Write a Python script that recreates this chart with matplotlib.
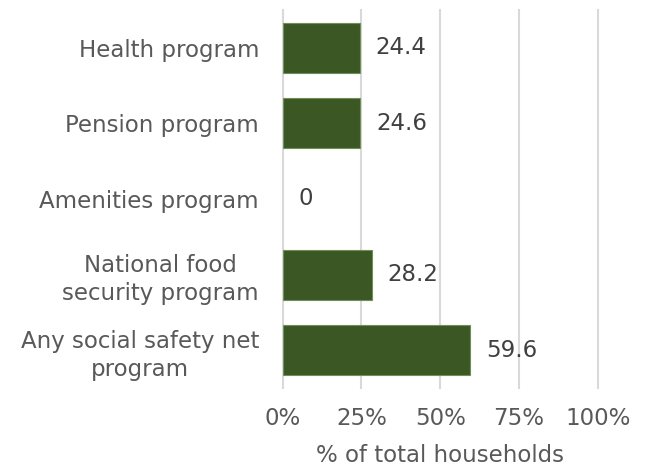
import matplotlib
matplotlib.use("Agg")
import matplotlib.pyplot as plt
from matplotlib.ticker import FuncFormatter

programs = ["Health program", "Pension program", "Amenities program",
            "National food\nsecurity program", "Any social safety net\nprogram"]
shares = [24.4, 24.6, 0, 28.2, 59.6]
xticks = [0, 25, 50, 75, 100]

plt.rcParams['font.family'] = ['DejaVu Sans']
plt.rcParams['font.size'] = 16.5

fig = plt.figure(figsize=(6.46, 4.66), dpi=100)
ax = fig.add_axes([0.4376, 0.1674, 0.4876, 0.8112])

ypos = list(range(len(programs)))
# no outline on empty bars
edges = [0.8 if v > 0 else 0 for v in shares]
bars = ax.barh(ypos, shares, height=0.66, color='#3b5723',
               edgecolor='#6f8f5a', linewidth=edges, zorder=3)
ax.bar_label(bars, labels=[f"{v:g}" for v in shares], padding=11.5,
             color='#404040', fontsize=16.5)

ax.set_ylim(len(programs) - 0.5, -0.5)
ax.set_xlim(0, 100)
ax.set_yticks(ypos)
ax.set_yticklabels(programs, color='#595959', multialignment='center',
                   linespacing=1.3)
ax.set_xticks(xticks)
ax.xaxis.set_major_formatter(FuncFormatter(lambda v, p: f"{v:.0f}%"))
ax.tick_params(axis='x', length=0, pad=14, colors='#595959')
ax.tick_params(axis='y', length=0, pad=17)
ax.set_xlabel("% of total households", color='#595959', labelpad=10)

ax.grid(axis='x', color='#d9d9d9', linewidth=1.5, zorder=0)
# keep the 0% and 100% gridlines from being clipped at the edges
for gl in ax.get_xgridlines():
    gl.set_clip_on(False)
for s in ax.spines.values():
    s.set_visible(False)

fig.savefig("out.png", dpi=100)
